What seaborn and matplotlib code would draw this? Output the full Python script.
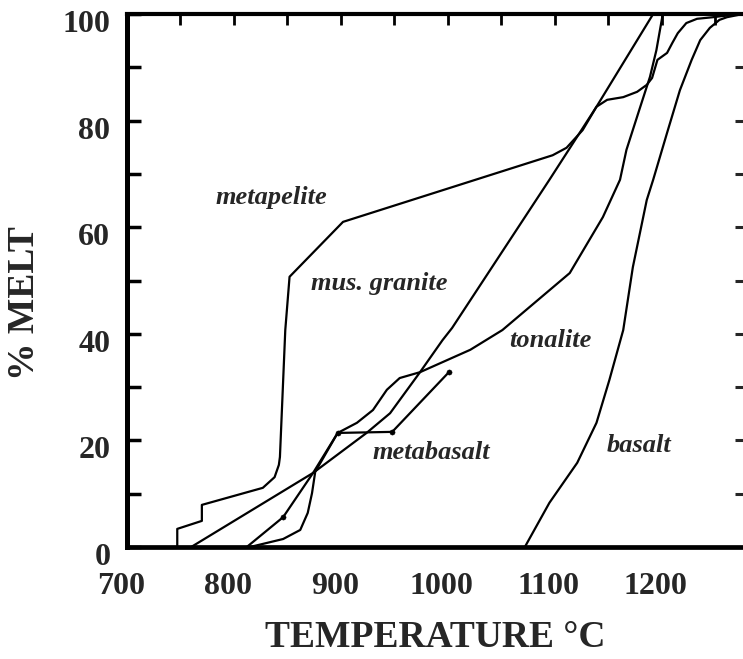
import matplotlib
matplotlib.use("Agg")
import matplotlib.pyplot as plt
import matplotlib.transforms as mtransforms
import seaborn as sns
import pandas as pd

# Curves: temperature (deg C) and % melt
metapelite_t = [747, 747, 770, 770, 827, 838, 842, 843, 848, 852, 902, 1098, 1111, 1126,
                1139, 1149, 1164, 1177, 1186, 1191, 1196, 1205, 1210, 1215, 1223, 1233,
                1248, 1256, 1276]
metapelite_m = [0, 3.4, 4.9, 7.9, 11.1, 13.1, 15.4, 16.9, 40.7, 50.7, 61.0, 73.5, 74.9, 78.2,
                82.6, 83.9, 84.4, 85.4, 86.7, 88.0, 91.4, 92.7, 94.6, 96.4, 98.3, 99.1,
                99.4, 99.6, 100]

granite_t = [760, 874, 924, 946, 974, 995, 1004, 1095, 1139, 1192]
granite_m = [0, 13.9, 21.4, 25.1, 32.8, 38.8, 41.1, 68.9, 82.6, 100]

tonalite_t = [815, 846, 862, 869, 873, 876, 897, 915, 930, 943, 955, 974, 1021, 1051,
              1114, 1145, 1161, 1167, 1179, 1189, 1195, 1201]
tonalite_m = [0, 1.5, 3.2, 6.4, 10.1, 14.1, 21.4, 23.3, 25.7, 29.5, 31.7, 32.8, 37.0, 40.7,
              51.4, 61.9, 68.9, 74.5, 82.0, 88.2, 93.2, 100]

metabasalt_t = [812, 846, 874, 897, 948, 1001]
metabasalt_m = [0, 5.6, 13.9, 21.4, 21.6, 32.8]
metabasalt_dots_t = [846, 897, 948, 1001]
metabasalt_dots_m = [5.6, 21.4, 21.6, 32.8]

basalt_t = [1072, 1095, 1121, 1139, 1151, 1164, 1173, 1186, 1192, 1205, 1217, 1228, 1236,
            1245, 1254, 1261, 1276]
basalt_m = [0, 8.3, 15.8, 23.3, 31.3, 40.7, 52.5, 65.1, 68.9, 77.7, 85.7, 91.4, 95.1,
            97.4, 98.9, 99.4, 100]

# curve labels and where they sit
label_names = ["metapelite", "mus. granite", "tonalite", "metabasalt", "basalt"]
label_t = [835, 936, 1096, 985, 1179]
label_m = [65.5, 49.5, 38.8, 17.8, 19.1]

x_ticks = list(range(700, 1251, 50))
x_tick_labels = ["700", "", "800", "", "900", "", "1000", "", "1100", "", "1200", ""]
y_ticks = list(range(0, 101, 10))
y_tick_labels = ["0", "", "20", "", "40", "", "60", "", "80", "", "100"]

sns.set_style("white")
plt.rcParams["font.family"] = ["Liberation Serif", "DejaVu Serif"]

fig = plt.figure(figsize=(7.43, 6.59), dpi=100)
ax = fig.add_axes([127 / 743, 112 / 659, 1 - 127 / 743, 533 / 659])

curves = [(metapelite_t, metapelite_m), (granite_t, granite_m), (tonalite_t, tonalite_m),
          (metabasalt_t, metabasalt_m), (basalt_t, basalt_m)]
for t, m in curves:
    df = pd.DataFrame({"temp": t, "melt": m})
    sns.lineplot(data=df, x="temp", y="melt", sort=False, estimator=None,
                 color="black", linewidth=1.6, ax=ax)

sns.scatterplot(x=metabasalt_dots_t, y=metabasalt_dots_m, color="black", s=14,
                edgecolor="black", ax=ax, zorder=3)

for name, t, m in zip(label_names, label_t, label_m):
    ax.text(t, m, name, fontsize=19, fontstyle="italic", fontweight="bold",
            ha="center", va="center")

ax.set_xlim(700, 1276)
ax.set_ylim(0, 100)
ax.tick_params(axis="x", direction="in", length=8, width=2, top=True, pad=18, color="black")
ax.tick_params(axis="y", direction="in", length=10, width=2.5, pad=12, color="black")
ax.set_xticks(x_ticks)
ax.set_xticklabels(x_tick_labels)
ax.set_yticks(y_ticks)
ax.set_yticklabels(y_tick_labels)

# the hand-set labels sit a little left / below their ticks
x_shift = mtransforms.ScaledTranslation(-6 / 100, 0, fig.dpi_scale_trans)
y_shift = mtransforms.ScaledTranslation(0, -7 / 100, fig.dpi_scale_trans)
for lab in ax.get_xticklabels():
    lab.set_fontweight("bold")
    lab.set_fontsize(23)
    lab.set_transform(lab.get_transform() + x_shift)
for lab in ax.get_yticklabels():
    lab.set_fontweight("bold")
    lab.set_fontsize(23)
    lab.set_transform(lab.get_transform() + y_shift)

ax.spines["left"].set_linewidth(3.6)
ax.spines["bottom"].set_linewidth(3.4)
ax.spines["top"].set_linewidth(3.0)
ax.spines["right"].set_visible(False)
for s in ["left", "bottom", "top"]:
    ax.spines[s].set_color("black")

# short inward ticks along the right edge
ax2 = ax.twinx()
ax2.set_ylim(0, 100)
ax2.set_yticks(y_ticks[1:-1])
ax2.tick_params(axis="y", direction="in", length=5.5, width=2.2, labelright=False)
for s in ax2.spines.values():
    s.set_visible(False)

ax.set_xlabel("TEMPERATURE °C", fontsize=27, fontweight="bold", labelpad=14)
ax.set_ylabel("% MELT", fontsize=27, fontweight="bold")
ax.yaxis.set_label_coords(-0.138, 0.458)

fig.savefig("out.png", dpi=100)
